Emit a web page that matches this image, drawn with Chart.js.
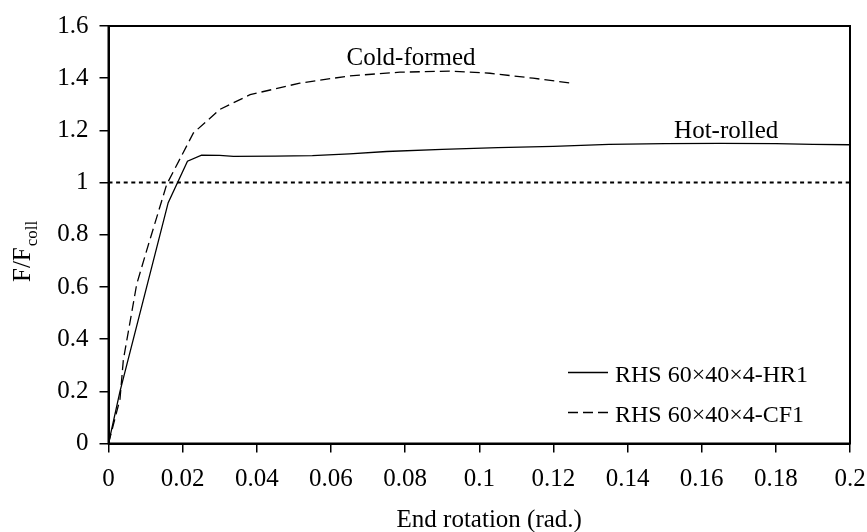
<!DOCTYPE html>
<html>
<head>
<meta charset="utf-8">
<script src="https://cdn.jsdelivr.net/npm/chart.js@4.4.1/dist/chart.umd.min.js"></script>
<style>
    html, body { margin: 0; padding: 0; background: #fff; }
    #rotChart { display: block; }
</style>
</head>
<body>
<canvas id="rotChart" width="867" height="532"></canvas>
<script>
    // 端部轉角 (rad.) 與荷載比 F/Fcoll
    const hrRotation = [0, 0.0031, 0.0161, 0.0213, 0.0251, 0.030, 0.0337, 0.045, 0.055, 0.065, 0.075, 0.090, 0.105, 0.120, 0.135, 0.150, 0.165, 0.180, 0.190, 0.200];
    const hrLoad = [0, 0.20, 0.923, 1.082, 1.105, 1.104, 1.100, 1.101, 1.103, 1.110, 1.119, 1.127, 1.134, 1.139, 1.146, 1.149, 1.150, 1.149, 1.146, 1.145];

    const cfRotation = [0, 0.0031, 0.0040, 0.0076, 0.0103, 0.0157, 0.0229, 0.0300, 0.0382, 0.0516, 0.0651, 0.0786, 0.0921, 0.1029, 0.1145, 0.1250];
    const cfLoad = [0, 0.17, 0.32, 0.61, 0.74, 0.993, 1.19, 1.28, 1.337, 1.381, 1.409, 1.423, 1.427, 1.419, 1.400, 1.381];

    // F/Fcoll = 1 參考線
    const refRotation = [0, 0.2];
    const refLoad = [1, 1];

    const seriesNames = ['RHS 60×40×4-HR1', 'RHS 60×40×4-CF1'];
    const curveNotes = [
        { text: 'Cold-formed', x: 0.0816, y: 1.452 },
        { text: 'Hot-rolled', x: 0.1666, y: 1.17 }
    ];

    const serif = '"Liberation Serif", "Times New Roman", serif';

    const toPoints = (xs, ys) => xs.map((x, i) => ({ x: x, y: ys[i] }));

    // 外框、曲線註記、圖例與 y 軸標題
    const decorPlugin = {
        id: 'decor',
        afterDraw(chart) {
            const ctx = chart.ctx;
            const area = chart.chartArea;
            const xs = chart.scales.x;
            const ys = chart.scales.y;
            ctx.save();

            ctx.strokeStyle = '#000';
            ctx.lineWidth = 2;
            ctx.strokeRect(area.left, area.top, area.right - area.left, area.bottom - area.top);

            ctx.fillStyle = '#000';
            ctx.font = '25px ' + serif;
            ctx.textAlign = 'center';
            ctx.textBaseline = 'alphabetic';
            curveNotes.forEach(n => {
                ctx.fillText(n.text, xs.getPixelForValue(n.x), ys.getPixelForValue(n.y));
            });

            // 圖例
            const legendRows = [
                { ds: chart.data.datasets[0], y: 372.5 },
                { ds: chart.data.datasets[1], y: 412.5 }
            ];
            ctx.font = '24px ' + serif;
            ctx.textAlign = 'left';
            legendRows.forEach(row => {
                ctx.beginPath();
                ctx.lineWidth = row.ds.borderWidth;
                ctx.setLineDash(row.ds.borderDash || []);
                ctx.moveTo(568, row.y);
                ctx.lineTo(608, row.y);
                ctx.stroke();
                ctx.setLineDash([]);
                ctx.fillText(row.ds.label, 615, row.y + 9);
            });

            // x 軸標題
            ctx.font = '25px ' + serif;
            ctx.textAlign = 'center';
            ctx.fillText('End rotation (rad.)', (area.left + area.right) / 2 + 10, 527);

            // y 軸標題 F/Fcoll
            ctx.translate(30, 282);
            ctx.rotate(-Math.PI / 2);
            ctx.textAlign = 'left';
            ctx.fillText('F/F', 0, 0);
            const w = ctx.measureText('F/F').width;
            ctx.font = '17px ' + serif;
            ctx.fillText('coll', w + 1, 7);

            ctx.restore();
        }
    };

    const tickFont = { family: serif, size: 25 };

    const rotChart = new Chart(document.getElementById('rotChart'), {
        type: 'line',
        data: {
            datasets: [
                {
                    label: seriesNames[0],
                    data: toPoints(hrRotation, hrLoad),
                    borderColor: '#000',
                    borderWidth: 1.3,
                    pointRadius: 0,
                    tension: 0
                },
                {
                    label: seriesNames[1],
                    data: toPoints(cfRotation, cfLoad),
                    borderColor: '#000',
                    borderWidth: 1.3,
                    borderDash: [10, 5],
                    pointRadius: 0,
                    tension: 0
                },
                {
                    label: 'ref',
                    data: toPoints(refRotation, refLoad),
                    borderColor: '#000',
                    borderWidth: 2,
                    borderDash: [4, 3.6],
                    pointRadius: 0
                }
            ]
        },
        options: {
            responsive: false,
            animation: false,
            layout: {
                padding: { top: 25, right: 17, left: 0, bottom: 0 }
            },
            plugins: {
                legend: { display: false },
                tooltip: { enabled: false }
            },
            scales: {
                x: {
                    type: 'linear',
                    min: 0,
                    max: 0.2,
                    afterFit(scale) {
                        scale.height = 88.5;
                        scale.paddingRight = 0;
                    },
                    border: { color: '#000', width: 2 },
                    grid: {
                        drawOnChartArea: false,
                        drawTicks: true,
                        tickLength: 9,
                        color: '#000',
                        lineWidth: 1.5
                    },
                    ticks: {
                        stepSize: 0.02,
                        color: '#000',
                        font: tickFont,
                        padding: 12,
                        maxRotation: 0,
                        autoSkip: false,
                        callback: v => String(Number(v.toFixed(2)))
                    }
                },
                y: {
                    min: 0,
                    max: 1.6,
                    afterFit(scale) { scale.width = 108.5; },
                    border: { color: '#000', width: 2 },
                    grid: {
                        drawOnChartArea: false,
                        drawTicks: true,
                        tickLength: 9,
                        color: '#000',
                        lineWidth: 1.5
                    },
                    ticks: {
                        stepSize: 0.2,
                        color: '#000',
                        font: tickFont,
                        padding: 11,
                        autoSkip: false,
                        callback: v => String(Number(v.toFixed(1)))
                    }
                }
            }
        },
        plugins: [decorPlugin]
    });
</script>
</body>
</html>
